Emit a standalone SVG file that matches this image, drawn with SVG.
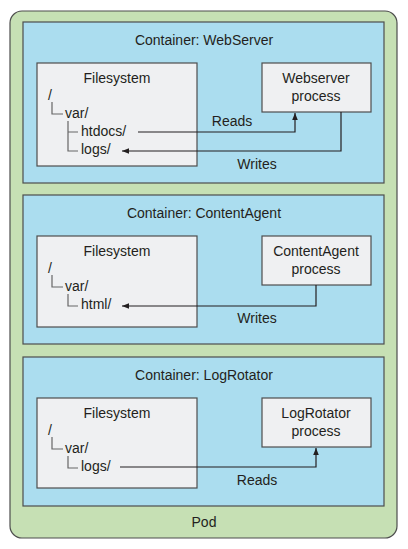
<svg xmlns="http://www.w3.org/2000/svg" width="408" height="549" viewBox="0 0 408 549">
<style>
text{font-family:"Liberation Sans",Arial,sans-serif;font-size:14px;fill:#231f20}
.c{text-anchor:middle}
.pod{fill:#c6e0b4;stroke:#4d4d4d;stroke-width:1.2}
.ctr{fill:#abddef;stroke:#4d4d4d;stroke-width:1.2}
.box{fill:#eff0f2;stroke:#4d4d4d;stroke-width:1.2}
.tree{fill:none;stroke:#666;stroke-width:1.2}
.conn{fill:none;stroke:#231f20;stroke-width:1.2}
</style>
<defs>
<marker id="ah" viewBox="0 0 10 10" refX="10" refY="5" markerWidth="7" markerHeight="7" orient="auto" markerUnits="userSpaceOnUse">
<path d="M0,1 L10,5 L0,9 Z" fill="#231f20"/>
</marker>
</defs>
<g id="pod">
<rect class="pod" x="10" y="11" width="387" height="527" rx="12"/>
<text class="c" x="204" y="527">Pod</text>
</g>
<g id="container-webserver">
<rect class="ctr" x="23" y="22" width="361" height="161"/>
<text class="c" x="204" y="45">Container: WebServer</text>
</g>
<g id="fs-webserver">
<rect class="box" x="37" y="63" width="160" height="103"/>
<text class="c" x="117" y="83">Filesystem</text>
<text x="48" y="100">/</text>
<text x="65" y="118">var/</text>
<text x="81" y="136">htdocs/</text>
<text x="81" y="154">logs/</text>
<path class="tree" d="M52,102 V114 H63 M68,121 V151 H78 M68,132 H78"/>
</g>
<g id="proc-webserver">
<rect class="box" x="262" y="63" width="109" height="49"/>
<text class="c" x="316" y="83">Webserver</text>
<text class="c" x="316" y="101">process</text>
</g>
<g id="container-contentagent">
<rect class="ctr" x="23" y="195" width="361" height="149"/>
<text class="c" x="204" y="218">Container: ContentAgent</text>
</g>
<g id="fs-contentagent">
<rect class="box" x="37" y="236" width="160" height="91"/>
<text class="c" x="117" y="256">Filesystem</text>
<text x="48" y="273">/</text>
<text x="65" y="291">var/</text>
<text x="81" y="309">html/</text>
<path class="tree" d="M52,275 V287 H63 M68,294 V306 H78"/>
</g>
<g id="proc-contentagent">
<rect class="box" x="262" y="236" width="109" height="49"/>
<text class="c" x="316" y="256">ContentAgent</text>
<text class="c" x="316" y="274">process</text>
</g>
<g id="container-logrotator">
<rect class="ctr" x="23" y="357" width="361" height="149"/>
<text class="c" x="204" y="380">Container: LogRotator</text>
</g>
<g id="fs-logrotator">
<rect class="box" x="37" y="398" width="160" height="90"/>
<text class="c" x="117" y="418">Filesystem</text>
<text x="48" y="435">/</text>
<text x="65" y="453">var/</text>
<text x="81" y="471">logs/</text>
<path class="tree" d="M52,437 V449 H63 M68,456 V468 H78"/>
</g>
<g id="proc-logrotator">
<rect class="box" x="262" y="398" width="109" height="49"/>
<text class="c" x="316" y="418">LogRotator</text>
<text class="c" x="316" y="436">process</text>
</g>
<g id="connectors">
<path class="conn" d="M138,132 H295 V113" marker-end="url(#ah)"/>
<text class="c" x="232" y="126">Reads</text>
<path class="conn" d="M341,112 V151 H122" marker-end="url(#ah)"/>
<text class="c" x="257" y="169">Writes</text>
<path class="conn" d="M316,285 V306 H122" marker-end="url(#ah)"/>
<text class="c" x="257" y="323">Writes</text>
<path class="conn" d="M120,467 H316 V448" marker-end="url(#ah)"/>
<text class="c" x="257" y="485">Reads</text>
</g>
</svg>
